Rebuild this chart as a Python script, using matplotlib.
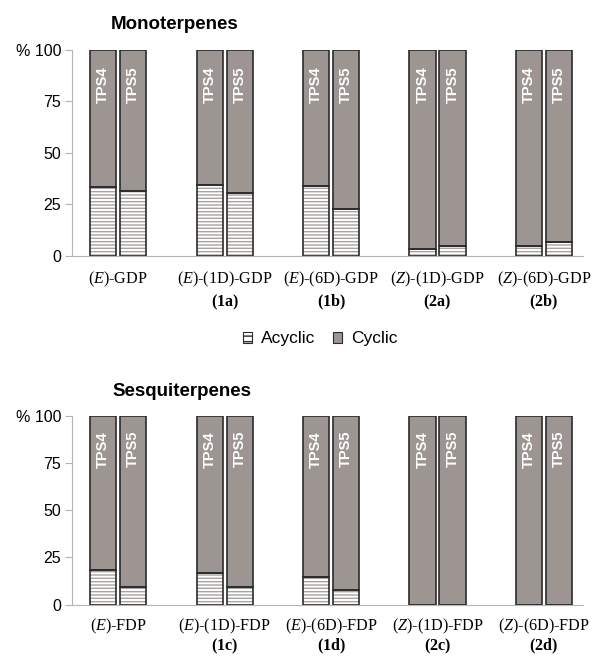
import numpy as np
import matplotlib.pyplot as plt
from matplotlib.patches import Patch

plt.rcParams["font.family"] = ["Liberation Sans", "DejaVu Sans"]
plt.rcParams["mathtext.fontset"] = "custom"
plt.rcParams["mathtext.rm"] = "Liberation Serif"
plt.rcParams["mathtext.it"] = "Liberation Serif:italic"
plt.rcParams["mathtext.bf"] = "Liberation Serif:bold"
plt.rcParams["hatch.linewidth"] = 1.0

enzymes = ["TPS4", "TPS5"]

mono_labels = [r"($\mathit{E}$)-GDP",
               "($\\mathit{E}$)-(1D)-GDP\n$\\mathbf{(1a)}$",
               "($\\mathit{E}$)-(6D)-GDP\n$\\mathbf{(1b)}$",
               "($\\mathit{Z}$)-(1D)-GDP\n$\\mathbf{(2a)}$",
               "($\\mathit{Z}$)-(6D)-GDP\n$\\mathbf{(2b)}$"]
mono_acyclic_tps4 = [33.3, 34.5, 34.0, 3.2, 5.0]
mono_acyclic_tps5 = [31.5, 30.6, 22.8, 5.0, 6.8]

sesq_labels = [r"($\mathit{E}$)-FDP",
               "($\\mathit{E}$)-(1D)-FDP\n$\\mathbf{(1c)}$",
               "($\\mathit{E}$)-(6D)-FDP\n$\\mathbf{(1d)}$",
               "($\\mathit{Z}$)-(1D)-FDP\n$\\mathbf{(2c)}$",
               "($\\mathit{Z}$)-(6D)-FDP\n$\\mathbf{(2d)}$"]
sesq_acyclic_tps4 = [18.3, 16.7, 14.8, 0.0, 0.0]
sesq_acyclic_tps5 = [9.5, 9.5, 7.9, 0.0, 0.0]

CYCLIC = "#9d9591"
HATCH = "#a8a2a0"
EDGE = "#2b2b2b"
AXIS = "#b5b5b5"


def draw_panel(ax, title, labels, acyc4, acyc5, title_x, spacing, pad):
    x = np.arange(len(labels))
    w = 0.245
    off = 0.141
    for vals, dx, name in [(acyc4, -off, enzymes[0]), (acyc5, off, enzymes[1])]:
        vals = np.array(vals)
        cyc = 100 - vals
        ax.bar(x + dx, vals, w, color="white", edgecolor=HATCH, hatch="-----", linewidth=0)
        ax.bar(x + dx, cyc, w, bottom=vals, color=CYCLIC, linewidth=0)
        ax.bar(x + dx, vals, w, color="none", edgecolor=EDGE, linewidth=1.2)
        ax.bar(x + dx, cyc, w, bottom=vals, color="none", edgecolor=EDGE, linewidth=1.2)
        for xi in x:
            ax.text(xi + dx, 92, name, rotation=90, ha="center", va="top",
                    color="white", fontsize=10.5, fontweight="bold")
    ax.set_xlim(-0.432, len(labels) - 1 + 0.366)
    ax.set_ylim(0, 100)
    ax.set_yticks([0, 25, 50, 75, 100])
    ax.set_yticklabels(["0", "25", "50", "75", "% 100"], fontsize=11.5)
    ax.set_xticks(x)
    ax.set_xticklabels(labels, fontsize=11.6, linespacing=spacing, va="top",
                       family="Liberation Serif")
    ax.tick_params(axis="x", length=0, pad=pad)
    ax.tick_params(axis="y", length=5, color=AXIS, direction="out", pad=3)
    for s in ["top", "right"]:
        ax.spines[s].set_visible(False)
    ax.spines["left"].set_color(AXIS)
    ax.spines["bottom"].set_color(AXIS)
    ax.set_title(title, fontsize=13.5, fontweight="bold", x=title_x, y=1.04, va="bottom")


fig = plt.figure(figsize=(6.01, 6.58), dpi=100)
ax1 = fig.add_axes([0.12, 0.611, 0.85, 0.313])
ax2 = fig.add_axes([0.12, 0.081, 0.85, 0.287])

draw_panel(ax1, "Monoterpenes", mono_labels, mono_acyclic_tps4, mono_acyclic_tps5, 0.2, 1.3, 10)
draw_panel(ax2, "Sesquiterpenes", sesq_labels, sesq_acyclic_tps4, sesq_acyclic_tps5, 0.215, 1.0, 9)

handles = [Patch(facecolor="white", edgecolor=EDGE, hatch="---", linewidth=0.8, label="Acyclic"),
           Patch(facecolor=CYCLIC, edgecolor=EDGE, linewidth=0.8, label="Cyclic")]
fig.legend(handles=handles, loc="center", bbox_to_anchor=(320 / 601, 1 - 339 / 658), ncol=2,
           frameon=False, fontsize=12.5, handlelength=0.55, handleheight=0.55,
           handletextpad=0.5, columnspacing=1.0)

fig.savefig("out.png", dpi=100)
